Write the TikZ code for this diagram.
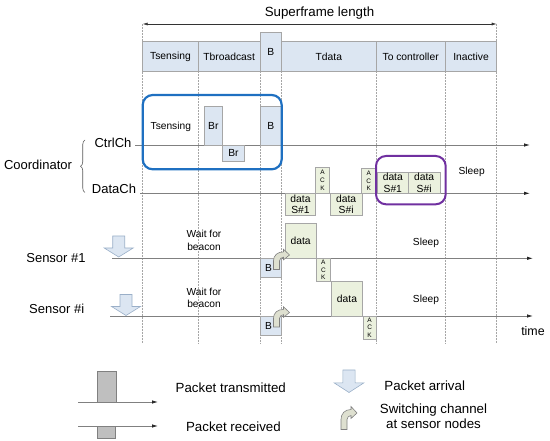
\documentclass[tikz,border=0pt]{standalone}
\usepackage{fontspec}
\setmainfont{Liberation Sans}
\usetikzlibrary{arrows.meta,decorations.pathreplacing}
\definecolor{hdrblue}{HTML}{DCE6F2}
\definecolor{datagreen}{HTML}{EBF1DE}
\definecolor{boxgray}{HTML}{A6A6A6}
\definecolor{ctrlblue}{HTML}{1F70C1}
\definecolor{purp}{HTML}{7030A0}
\definecolor{leggray}{HTML}{BFBFBF}
\definecolor{switchfill}{HTML}{DEE0D0}
\definecolor{arrgray}{HTML}{9AAFC8}
\newcommand{\pkt}[7]{\node[#1, minimum width={(#4-#2)*1pt}, minimum height={(#5-#3)*1pt}] (#7) at ({(#2+#4)/2},{(#3+#5)/2}) {#6};}
\tikzset{
  box/.style={draw=boxgray, line width=0.6pt, inner sep=0pt, outer sep=0pt, align=center, font=\fontsize{10.3}{11.5}\selectfont},
  hdr/.style={box, fill=hdrblue},
  bpk/.style={box, fill=hdrblue},
  dpk/.style={box, fill=datagreen},
  ackbox/.style={box, fill=datagreen, font=\fontsize{6.5}{7.6}\selectfont},
  legbox/.style={draw=gray, fill=leggray, line width=0.6pt, inner sep=0pt, outer sep=0pt},
  hlblue/.style={draw=ctrlblue, line width=2.2pt, rounded corners=10pt, inner sep=0pt},
  hlpurp/.style={draw=purp, line width=2pt, rounded corners=10pt, inner sep=0pt},
  lbl/.style={font=\fontsize{13}{15}\selectfont, inner sep=0pt},
  legl/.style={font=\fontsize{13.3}{15.8}\selectfont, inner sep=0pt, align=center},
  small/.style={font=\fontsize{10.2}{12.5}\selectfont, inner sep=0pt, align=center},
  chan/.style={draw=gray, line width=0.8pt, -{Latex[length=6pt,width=3.5pt,color=black!85]}},
  vgrid/.style={draw=gray!70, line width=0.5pt, densely dotted},
  arrival/.pic={\path[draw=arrgray, fill=hdrblue, line width=0.6pt] (-6,0) -- (6,0) -- (6,12) -- (14.5,12) -- (0,21) -- (-14.5,12) -- (-6,12) -- cycle;},
  switcharrow/.pic={\path[draw=gray, fill=switchfill, line width=0.6pt] (0,0) -- (0,-10) .. controls (0,-16) and (4,-20) .. (10,-20) -- (10,-23) -- (16,-16.5) -- (10,-11) -- (10,-14) .. controls (8,-14) and (6,-12) .. (6,-10) -- (6,0) -- cycle;}
}
\begin{document}
\begin{tikzpicture}[x=1pt,y=-1pt]
\useasboundingbox (0,0) rectangle (550,441);
% grid lines
\foreach \xx/\yy in {142.7/24,198.3/71,260/71,281.7/71,376/71,445.3/71,496.7/24}
  \draw[vgrid] (\xx,\yy) -- (\xx,343);
% superframe
\coordinate (sfL) at (142.7,24);
\coordinate (sfR) at (496.7,24);
\draw[line width=0.6pt, black!80, {Latex[length=5pt,width=3pt]}-{Latex[length=5pt,width=3pt]}] (sfL) -- (sfR);
\node[font=\fontsize{13.3}{15}\selectfont, inner sep=0pt] (sftitle) at (319.5,13.3) {Superframe length};
% header
\pkt{hdr}{142.7}{41.7}{198.3}{71}{Tsensing}{h1}
\pkt{hdr}{198.3}{41.7}{260}{71}{Tbroadcast}{h2}
\pkt{hdr}{260}{32.3}{281.7}{71}{B}{h3}
\pkt{hdr}{281.7}{41.7}{376}{71}{Tdata}{h4}
\pkt{hdr}{376}{41.7}{445.3}{71}{To controller}{h5}
\pkt{hdr}{445.3}{41.7}{496.7}{71}{Inactive}{h6}
% channel lines
\coordinate (cc0) at (135,145); \coordinate (cc1) at (530,145);
\coordinate (dc0) at (140,193.3); \coordinate (dc1) at (530,193.3);
\coordinate (s10) at (112,258.3); \coordinate (s11) at (533,258.3);
\coordinate (si0) at (110,316); \coordinate (si1) at (533,316);
\draw[chan] (cc0) -- (cc1);
\draw[chan] (dc0) -- (dc1);
\draw[chan] (s10) -- (s11);
\draw[chan] (si0) -- (si1);
% coordinator packets
\pkt{bpk}{204}{106.7}{222.7}{145}{Br}{br1}
\pkt{bpk}{222.7}{145}{244.3}{161}{Br}{br2}
\pkt{bpk}{260}{106.7}{281.7}{145}{B}{cb}
\node[small] (tsens) at (170.8,127.3) {Tsensing};
\pkt{hlblue}{142.7}{95}{281.7}{169.3}{}{hlb}
\pkt{ackbox}{315.7}{167.3}{329.3}{193.3}{A\\C\\K}{ack1}
\pkt{ackbox}{361.7}{168.3}{375.7}{193.3}{A\\C\\K}{ack2}
\pkt{dpk}{285.3}{193.3}{315.7}{215}{data\\S\#1}{cd1}
\pkt{dpk}{330}{193.3}{362.3}{215}{data\\S\#i}{cdi}
\pkt{dpk}{377.3}{172.3}{408.3}{193.3}{data\\S\#1}{tc1}
\pkt{dpk}{408.3}{172.3}{440}{193.3}{data\\S\#i}{tci}
\pkt{hlpurp}{376}{156}{445.7}{204.3}{}{hlp}
\node[small] (sleepc) at (471.7,171.7) {Sleep};
% sensor 1
\pkt{dpk}{285.3}{223.3}{316}{258.3}{data}{s1d}
\pkt{bpk}{260.7}{258.3}{281.7}{277.3}{}{s1b}
\node[small] (s1bl) at (268.5,267.5) {B};
\pkt{ackbox}{316.7}{258.3}{330}{281.7}{A\\C\\K}{s1ack}
\pic at (273.5,269.5) [yscale=0.88] {switcharrow};
\node[small, font=\fontsize{10.2}{12.4}\selectfont] (w1) at (204,240.5) {Wait for\\beacon};
\node[small] (sl1) at (426,242.7) {Sleep};
% sensor i
\pkt{dpk}{331.7}{281.7}{362.3}{316}{data}{sid}
\pkt{bpk}{260.7}{316}{281.7}{335}{}{sib}
\node[small] (sibl) at (268.5,325.5) {B};
\pkt{ackbox}{363.3}{316}{376}{339}{A\\C\\K}{siack}
\pic at (273.5,327) [yscale=0.88] {switcharrow};
\node[small, font=\fontsize{10.2}{12.4}\selectfont] (wi) at (204,298) {Wait for\\beacon};
\node[small] (sli) at (426,299.7) {Sleep};
\node[font=\fontsize{12.4}{14}\selectfont, inner sep=0pt] (time) at (533,331) {time};
% left labels
\node[lbl] (coord) at (38,164.5) {Coordinator};
\node[lbl] (ctrl) at (113,143) {CtrlCh};
\node[lbl] (data) at (114,189) {DataCh};
\coordinate (brB) at (85,192.5); \coordinate (brT) at (85,140);
\draw[decorate, decoration={brace, amplitude=4.5pt}, gray!70!black, line width=0.6pt] (brB) -- (brT);
\node[lbl] (sens1) at (56,258.3) {Sensor \#1};
\node[lbl] (sensi) at (56.7,309) {Sensor \#i};
\pic at (118.7,236) {arrival};
\pic at (126,294.5) {arrival};
% legend
\coordinate (lt0) at (78,402); \coordinate (lt1) at (158,402);
\coordinate (lr0) at (78,426); \coordinate (lr1) at (158,426);
\draw[chan] (lt0) -- (lt1);
\draw[chan] (lr0) -- (lr1);
\pkt{legbox}{97.6}{370.9}{115.8}{402}{}{lgt}
\pkt{legbox}{97.2}{426}{115.4}{438.3}{}{lgr}
\node[legl] (lgtt) at (230.8,388) {Packet transmitted};
\node[legl] (lgrt) at (233.4,427) {Packet received};
\pic at (349,370) [yscale=1.07, xscale=1.03] {arrival};
\node[legl] (lgat) at (424.7,385.6) {Packet arrival};
\pic at (341,429.5) {switcharrow};
\node[legl] (lgst) at (433.5,416.3) {Switching channel\\at sensor nodes};
\end{tikzpicture}
\end{document}
